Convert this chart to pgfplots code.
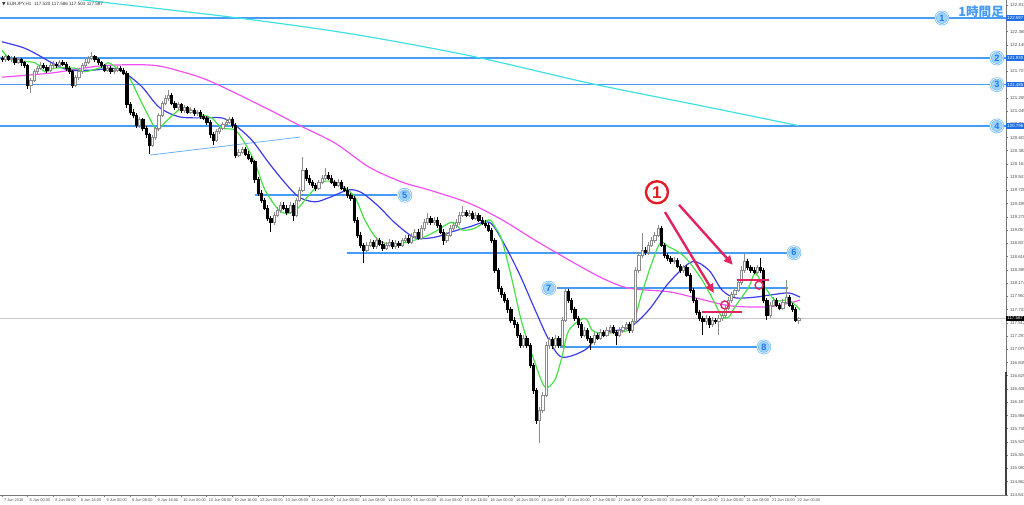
\documentclass[border=0pt]{standalone}
\usepackage{pgfplots}
\pgfplotsset{compat=1.18}
\usepackage{pgfplotstable}
\usepackage{fontspec}
\setmainfont{Liberation Sans}
\newfontfamily\cjk{Noto Sans CJK JP}
\newfontfamily\dejavu{DejaVu Sans}
\usetikzlibrary{arrows.meta}

\definecolor{lvl}{RGB}{70,155,245}
\definecolor{lvlfill}{RGB}{160,212,255}
\definecolor{lvlring}{RGB}{110,185,250}
\definecolor{lvldigit}{RGB}{30,120,230}
\definecolor{maaqua}{RGB}{64,224,224}
\definecolor{mamag}{RGB}{240,80,240}
\definecolor{mablue}{RGB}{60,60,235}
\definecolor{magreen}{RGB}{70,225,70}
\definecolor{anno}{RGB}{225,35,95}
\definecolor{annored}{RGB}{225,30,40}
\definecolor{bull}{RGB}{140,140,140}
\definecolor{axgray}{RGB}{120,120,120}
\definecolor{tickgray}{RGB}{80,80,80}
\definecolor{hlblue}{RGB}{30,110,230}

\tikzset{cnum/.style={circle, draw=lvlring, line width=0.35pt, double=white, double distance=0.35pt, fill=lvlfill, text=lvldigit, inner sep=0pt, minimum size=6.3pt, font=\fontsize{4.6}{4.6}\selectfont\bfseries}}

\newcommand{\yu}{29.975}
\pgfdeclareplotmark{candle}{%
  \pgfsetlinewidth{0.3pt}%
  \ifdim\candC pt>0pt
    \pgfsetstrokecolor{bull}\pgfsetfillcolor{white}%
  \else
    \pgfsetstrokecolor{black}\pgfsetfillcolor{black}%
  \fi
  \pgfpathmoveto{\pgfqpoint{0pt}{\candL pt}}%
  \pgfpathlineto{\pgfqpoint{0pt}{\candH pt}}%
  \pgfusepathqstroke
  \pgfpathrectanglecorners{\pgfqpoint{-0.55pt}{0pt}}{\pgfqpoint{0.55pt}{\candC pt}}%
  \pgfusepathqfillstroke
}

\pgfplotstableread{
t O H L C
0 121.93 121.97 121.86 121.90
1 121.90 121.99 121.87 121.95
2 121.95 121.98 121.88 121.91
3 121.91 121.97 121.87 121.93
4 121.93 121.96 121.82 121.86
5 121.86 121.94 121.83 121.90
6 121.90 121.93 121.80 121.85
7 121.85 121.88 121.76 121.80
8 121.80 121.83 121.42 121.48
9 121.48 121.60 121.35 121.56
10 121.56 121.74 121.53 121.70
11 121.70 121.80 121.66 121.76
12 121.76 121.86 121.73 121.81
13 121.81 121.85 121.74 121.78
14 121.78 121.81 121.68 121.73
15 121.73 121.84 121.70 121.80
16 121.80 121.88 121.77 121.83
17 121.83 121.87 121.76 121.80
18 121.80 121.90 121.77 121.86
19 121.86 121.89 121.79 121.83
20 121.83 121.86 121.72 121.76
21 121.76 121.79 121.66 121.70
22 121.70 121.73 121.43 121.48
23 121.48 121.64 121.45 121.60
24 121.60 121.74 121.57 121.70
25 121.70 121.84 121.67 121.80
26 121.80 121.91 121.77 121.86
27 121.86 121.97 121.83 121.93
28 121.93 122.03 121.89 121.95
29 121.95 121.98 121.86 121.90
30 121.90 121.93 121.81 121.85
31 121.85 121.88 121.76 121.80
32 121.80 121.83 121.69 121.73
33 121.73 121.80 121.70 121.76
34 121.76 121.79 121.66 121.70
35 121.70 121.77 121.67 121.73
36 121.73 121.80 121.70 121.76
37 121.76 121.79 121.69 121.73
38 121.73 121.76 121.64 121.68
39 121.68 121.71 121.10 121.15
40 121.15 121.20 120.98 121.03
41 121.03 121.08 120.93 120.98
42 120.98 121.01 120.76 120.81
43 120.81 120.95 120.77 120.90
44 120.90 120.93 120.71 120.76
45 120.76 120.80 120.60 120.65
46 120.65 120.68 120.33 120.48
47 120.48 120.65 120.44 120.60
48 120.60 120.80 120.56 120.76
49 120.76 121.02 120.72 120.98
50 120.98 121.22 120.94 121.18
51 121.18 121.31 121.14 121.26
52 121.26 121.40 121.22 121.31
53 121.31 121.34 121.14 121.18
54 121.18 121.22 121.06 121.10
55 121.10 121.20 121.06 121.15
56 121.15 121.18 121.02 121.06
57 121.06 121.14 121.02 121.10
58 121.10 121.13 120.99 121.03
59 121.03 121.11 120.99 121.06
60 121.06 121.09 120.96 121.00
61 121.00 121.07 120.96 121.03
62 121.03 121.06 120.92 120.96
63 120.96 121.00 120.89 120.93
64 120.93 120.97 120.82 120.86
65 120.86 120.89 120.60 120.65
66 120.65 120.69 120.48 120.56
67 120.56 120.74 120.53 120.70
68 120.70 120.80 120.66 120.76
69 120.76 120.87 120.73 120.83
70 120.83 120.91 120.79 120.86
71 120.86 120.95 120.83 120.90
72 120.90 120.94 120.77 120.81
73 120.81 120.84 120.26 120.31
74 120.31 120.41 120.27 120.36
75 120.36 120.45 120.32 120.40
76 120.40 120.44 120.29 120.33
77 120.33 120.37 120.22 120.26
78 120.26 120.30 120.16 120.20
79 120.20 120.23 119.85 119.90
80 119.90 119.94 119.63 119.68
81 119.68 119.72 119.51 119.56
82 119.56 119.60 119.39 119.43
83 119.43 119.47 119.21 119.26
84 119.26 119.30 119.03 119.19
85 119.19 119.36 119.15 119.31
86 119.31 119.44 119.27 119.39
87 119.39 119.53 119.35 119.48
88 119.48 119.52 119.39 119.43
89 119.43 119.47 119.31 119.36
90 119.36 119.52 119.32 119.48
91 119.48 119.51 119.21 119.31
92 119.31 119.60 119.27 119.56
93 119.56 119.78 119.52 119.73
94 119.73 120.28 119.70 120.06
95 120.06 120.10 119.88 119.93
96 119.93 119.97 119.81 119.86
97 119.86 119.90 119.76 119.81
98 119.81 119.85 119.71 119.76
99 119.76 119.90 119.72 119.86
100 119.86 119.97 119.82 119.93
101 119.93 120.10 119.89 119.98
102 119.98 120.02 119.89 119.93
103 119.93 119.97 119.82 119.86
104 119.86 119.90 119.76 119.81
105 119.81 119.91 119.77 119.86
106 119.86 119.89 119.72 119.76
107 119.76 119.80 119.69 119.73
108 119.73 119.77 119.60 119.64
109 119.64 119.68 119.55 119.59
110 119.59 119.62 119.18 119.23
111 119.23 119.27 118.93 118.98
112 118.98 119.02 118.76 118.81
113 118.81 118.85 118.51 118.73
114 118.73 118.86 118.69 118.81
115 118.81 118.91 118.77 118.86
116 118.86 118.90 118.75 118.79
117 118.79 118.94 118.75 118.89
118 118.89 118.93 118.79 118.83
119 118.83 118.87 118.71 118.76
120 118.76 118.86 118.72 118.81
121 118.81 118.91 118.77 118.86
122 118.86 118.90 118.75 118.79
123 118.79 118.89 118.75 118.84
124 118.84 118.88 118.76 118.81
125 118.81 118.93 118.77 118.89
126 118.89 118.98 118.85 118.93
127 118.93 118.97 118.82 118.86
128 118.86 119.01 118.82 118.96
129 118.96 119.08 118.92 119.03
130 119.03 119.07 118.89 118.93
131 118.93 119.14 118.89 119.09
132 119.09 119.24 119.05 119.19
133 119.19 119.34 119.15 119.26
134 119.26 119.30 119.15 119.19
135 119.19 119.28 119.15 119.23
136 119.23 119.27 119.10 119.14
137 119.14 119.18 118.99 119.03
138 119.03 119.07 118.81 118.89
139 118.89 119.03 118.85 118.98
140 118.98 119.14 118.94 119.09
141 119.09 119.19 119.05 119.14
142 119.14 119.24 119.10 119.19
143 119.19 119.36 119.15 119.31
144 119.31 119.46 119.27 119.36
145 119.36 119.40 119.27 119.31
146 119.31 119.39 119.27 119.34
147 119.34 119.38 119.22 119.26
148 119.26 119.36 119.22 119.31
149 119.31 119.35 119.19 119.23
150 119.23 119.27 119.14 119.18
151 119.18 119.22 119.10 119.14
152 119.14 119.18 119.02 119.06
153 119.06 119.10 118.85 118.89
154 118.89 118.92 118.34 118.39
155 118.39 118.43 118.03 118.09
156 118.09 118.13 117.93 117.98
157 117.98 118.02 117.84 117.89
158 117.89 117.93 117.68 117.73
159 117.73 117.77 117.51 117.56
160 117.56 117.61 117.43 117.48
161 117.48 117.52 117.26 117.31
162 117.31 117.35 117.09 117.14
163 117.14 117.31 117.10 117.26
164 117.26 117.30 117.09 117.14
165 117.14 117.18 116.76 116.81
166 116.81 116.85 116.33 116.39
167 116.39 116.43 115.83 115.89
168 115.89 116.10 115.51 116.06
169 116.06 116.36 116.01 116.31
170 116.31 117.19 116.27 117.14
171 117.14 117.28 117.08 117.23
172 117.23 117.27 117.08 117.13
173 117.13 117.31 117.09 117.26
174 117.26 117.30 117.09 117.14
175 117.14 117.61 117.10 117.56
176 117.56 118.11 117.52 118.03
177 118.03 118.07 117.84 117.89
178 117.89 117.93 117.68 117.73
179 117.73 117.77 117.54 117.59
180 117.59 117.63 117.43 117.48
181 117.48 117.52 117.26 117.31
182 117.31 117.44 117.27 117.39
183 117.39 117.43 117.21 117.26
184 117.26 117.30 117.06 117.19
185 117.19 117.36 117.15 117.31
186 117.31 117.35 117.22 117.26
187 117.26 117.41 117.22 117.36
188 117.36 117.40 117.27 117.31
189 117.31 117.44 117.27 117.39
190 117.39 117.48 117.35 117.43
191 117.43 117.47 117.32 117.36
192 117.36 117.40 117.14 117.31
193 117.31 117.44 117.27 117.39
194 117.39 117.48 117.35 117.43
195 117.43 117.53 117.39 117.48
196 117.48 117.52 117.35 117.39
197 117.39 117.58 117.35 117.53
198 117.53 118.44 117.49 118.39
199 118.39 118.70 118.34 118.64
200 118.64 119.01 118.60 118.73
201 118.73 118.78 118.64 118.69
202 118.69 118.86 118.65 118.81
203 118.81 118.94 118.77 118.89
204 118.89 119.03 118.85 118.98
205 118.98 119.14 118.94 119.09
206 119.09 119.12 118.77 118.81
207 118.81 118.85 118.60 118.64
208 118.64 118.68 118.55 118.59
209 118.59 118.63 118.49 118.53
210 118.53 118.61 118.49 118.56
211 118.56 118.60 118.42 118.46
212 118.46 118.50 118.35 118.39
213 118.39 118.48 118.35 118.43
214 118.43 118.47 118.27 118.31
215 118.31 118.35 118.01 118.06
216 118.06 118.10 117.84 117.89
217 117.89 117.93 117.64 117.69
218 117.69 117.73 117.54 117.59
219 117.59 117.63 117.31 117.53
220 117.53 117.64 117.48 117.59
221 117.59 117.63 117.43 117.48
222 117.48 117.61 117.44 117.56
223 117.56 117.60 117.49 117.53
224 117.53 117.64 117.31 117.59
225 117.59 117.69 117.55 117.64
226 117.64 117.81 117.60 117.76
227 117.76 117.94 117.72 117.89
228 117.89 118.03 117.85 117.98
229 117.98 118.11 117.94 118.06
230 118.06 118.24 118.02 118.19
231 118.19 118.46 118.15 118.39
232 118.39 118.68 118.35 118.53
233 118.53 118.58 118.39 118.43
234 118.43 118.48 118.35 118.39
235 118.39 118.44 118.32 118.36
236 118.36 118.48 118.32 118.43
237 118.43 118.60 118.35 118.39
238 118.39 118.43 117.84 117.89
239 117.89 117.93 117.56 117.64
240 117.64 117.86 117.60 117.81
241 117.81 117.94 117.77 117.89
242 117.89 117.93 117.77 117.81
243 117.81 117.85 117.72 117.76
244 117.76 117.91 117.72 117.86
245 117.86 118.23 117.82 117.93
246 117.93 117.97 117.77 117.81
247 117.81 117.85 117.69 117.73
248 117.73 117.77 117.52 117.56
249 117.56 117.61 117.50 117.59
}\candles

\begin{document}
\begin{tikzpicture}
\useasboundingbox (0,0) rectangle (512pt,252pt);
\begin{axis}[
  at={(0pt,4.5pt)}, anchor=south west,
  x=1.6pt, y=\yu pt,
  xmin=-0.6, xmax=313.775,
  ymin=114.64, ymax=122.897,
  axis x line*=bottom, axis y line*=right,
  axis line style={axgray, line width=0.4pt},
  tick align=outside, major tick length=1.2pt,
  tick style={axgray, line width=0.3pt},
  clip mode=individual,
  ytick={122.811,122.590,122.369,122.149,121.928,121.707,121.486,121.265,121.045,120.824,120.603,120.382,120.161,119.941,119.720,119.499,119.278,119.057,118.837,118.616,118.395,118.174,117.953,117.733,117.512,117.291,117.070,116.849,116.629,116.408,116.187,115.966,115.745,115.525,115.304,115.083,114.862,114.641},
  yticklabels={122.811,122.590,122.369,122.149,121.928,121.707,121.486,121.265,121.045,120.824,120.603,120.382,120.161,119.941,119.720,119.499,119.278,119.057,118.837,118.616,118.395,118.174,117.953,117.733,117.512,117.291,117.070,116.849,116.629,116.408,116.187,115.966,115.745,115.525,115.304,115.083,114.862,114.641},
  yticklabel style={anchor=west, inner sep=0.6pt, font=\fontsize{2.2}{2.5}\selectfont, text=tickgray},
  xtick={0,8,...,248},
  xticklabels={7 Jun 2016,8 Jun 00:00,8 Jun 08:00,8 Jun 16:00,9 Jun 00:00,9 Jun 08:00,9 Jun 16:00,10 Jun 00:00,10 Jun 08:00,10 Jun 16:00,13 Jun 00:00,13 Jun 08:00,13 Jun 16:00,14 Jun 00:00,14 Jun 08:00,14 Jun 16:00,15 Jun 00:00,15 Jun 08:00,15 Jun 16:00,16 Jun 00:00,16 Jun 08:00,16 Jun 16:00,17 Jun 00:00,17 Jun 08:00,17 Jun 16:00,20 Jun 00:00,20 Jun 08:00,20 Jun 16:00,21 Jun 00:00,21 Jun 08:00,21 Jun 16:00,22 Jun 00:00},
  xticklabel style={anchor=north west, inner sep=0.6pt, xshift=0.3pt, font=\fontsize{1.95}{2.3}\selectfont, text=tickgray},
]
% current price line
\addplot[gray!45, line width=0.3pt] coordinates {(-1,117.587) (314,117.587)};
% level lines 1-4
\addplot[lvl, line width=0.8pt] coordinates {(-1,122.597) (314,122.597)};
\addplot[lvl, line width=0.8pt] coordinates {(-1,121.930) (314,121.930)};
\addplot[lvl, line width=0.8pt] coordinates {(-1,121.485) (314,121.485)};
\addplot[lvl, line width=0.8pt] coordinates {(-1,120.796) (314,120.796)};
% level lines 5-8
\addplot[lvl, line width=0.8pt] coordinates {(79.1,119.64) (123.4,119.64)};
\addplot[lvl, line width=0.8pt] coordinates {(107.8,118.68) (245.3,118.68)};
\addplot[lvl, line width=0.8pt] coordinates {(173.4,118.09) (245.6,118.09)};
\addplot[lvl, line width=0.8pt] coordinates {(174.4,117.11) (236.0,117.11)};
% trend line
\addplot[lvl!80, line width=0.4pt] coordinates {(46.25,120.31) (93.1,120.61)};
% long MA (aqua)
\addplot[maaqua, line width=0.6pt, smooth] coordinates {(0,123.06) (25,122.90) (73.4,122.60) (109.4,122.33) (146.9,121.96) (184.4,121.50) (218.8,121.13) (249,120.80)};
% magenta MA
\addplot[mamag, line width=0.6pt, smooth] coordinates {(0,121.61) (15.6,121.68) (31.3,121.80) (46.9,121.81) (56.3,121.70) (65.6,121.53) (83.8,121.06) (92.8,120.81) (104.1,120.51) (114.7,120.11) (125,119.86) (133.4,119.73) (145.9,119.51) (156.3,119.23) (166.6,118.89) (177.2,118.56) (187.5,118.26) (195.9,118.09) (208.4,118.03) (216.6,117.93) (225.9,117.81) (231.3,117.78) (239.7,117.78) (245.9,117.84) (249.4,117.89)};
% blue MA
\addplot[mablue, line width=0.6pt, smooth] coordinates {(0,122.20) (6.25,122.11) (10.3,122.01) (15.6,121.85) (20.9,121.73) (29.1,121.73) (34.4,121.76) (38.4,121.68) (43.75,121.45) (49.1,121.11) (55.3,120.95) (62.5,120.93) (68.75,120.93) (72.8,120.81) (78.1,120.56) (83.4,120.18) (88.4,119.85) (92.8,119.61) (97.8,119.53) (102.2,119.60) (108.4,119.73) (112.5,119.68) (117.8,119.45) (122.8,119.18) (129.1,118.93) (135.3,118.94) (140.6,119.03) (145.9,119.11) (152.2,119.19) (156.3,118.89) (161.6,118.34) (166.6,117.73) (170.9,117.23) (175,116.94) (182.2,117.06) (187.5,117.34) (195.9,117.43) (202.2,117.73) (208.4,118.18) (215.6,118.53) (220.9,118.39) (225,118.06) (229.1,117.93) (235.3,117.94) (240.6,117.98) (245.9,118.01) (249.4,117.94)};
% green MA
\addplot[magreen, line width=0.6pt, smooth] coordinates {(0,122.06) (3.1,121.90) (10.3,121.85) (13.4,121.70) (16.6,121.76) (22.8,121.76) (25.9,121.70) (31.25,121.78) (33.4,121.85) (36.6,121.73) (39.7,121.61) (42.8,121.28) (45.9,120.95) (48.4,120.73) (50.9,120.85) (54.1,121.01) (57.2,121.10) (62.5,120.98) (65.6,120.93) (68.75,120.76) (72.8,120.73) (75.9,120.51) (79.1,120.18) (82.2,119.73) (86.6,119.39) (89.7,119.34) (92.8,119.44) (95.9,119.64) (100,119.86) (104.1,119.86) (107.2,119.76) (110.3,119.61) (113.4,119.23) (116.6,118.95) (119.7,118.84) (125,118.84) (131.25,118.93) (135.3,119.03) (140.6,119.19) (143.75,119.06) (147.8,119.09) (152.2,119.23) (154.1,119.11) (156.25,118.89) (159.4,118.23) (162.5,117.51) (166.6,116.84) (169.7,116.44) (172.8,116.56) (175,116.94) (177.2,117.39) (182.2,117.59) (184.4,117.39) (187.5,117.34) (192.8,117.36) (196.9,117.44) (200,118.01) (205.3,118.81) (208.4,118.78) (213.4,118.61) (218.75,118.23) (222.8,117.84) (225,117.61) (227.2,117.61) (229.1,117.78) (233.4,118.11) (235.3,118.34) (237.5,118.18) (241.6,117.89) (245.9,117.89) (249.4,117.73)};
% candles
\addplot[scatter, only marks, mark=candle,
  scatter/@pre marker code/.code={},
  scatter/@post marker code/.code={},
  visualization depends on={(\thisrow{H}-\thisrow{O})*\yu \as \candH},
  visualization depends on={(\thisrow{L}-\thisrow{O})*\yu \as \candL},
  visualization depends on={(\thisrow{C}-\thisrow{O})*\yu \as \candC},
] table[x=t, y=O] {\candles};
% red annotations
\addplot[anno, line width=1.1pt] coordinates {(218.75,117.69) (231.25,117.69)};
\addplot[anno, line width=1.1pt] coordinates {(229.7,118.23) (239.7,118.23)};
\draw[anno, line width=1.2pt, -{Triangle[length=4.5pt,width=4pt]}] (axis cs:207.2,119.36) -- (axis cs:222.5,118.01);
\draw[anno, line width=1.2pt, -{Triangle[length=4.5pt,width=4pt]}] (axis cs:211.6,119.48) -- (axis cs:228.4,118.48);
\draw[anno, line width=0.7pt] (axis cs:225.9,117.81) circle[radius=2pt];
\draw[anno, line width=0.7pt] (axis cs:236.6,118.14) circle[radius=2pt];
\node[circle, draw=annored, line width=1.2pt, text=annored, inner sep=0pt, minimum size=11pt, font=\fontsize{8.5}{8.5}\selectfont\bfseries] at (axis cs:204.7,119.69) {1};
% circled numbers
\node[cnum] at (axis cs:293.75,122.597) {1};
\node[cnum] at (axis cs:310.9,121.930) {2};
\node[cnum] at (axis cs:310.9,121.485) {3};
\node[cnum] at (axis cs:310.9,120.796) {4};
\node[cnum] at (axis cs:125.9,119.64) {5};
\node[cnum] at (axis cs:247.5,118.68) {6};
\node[cnum] at (axis cs:170.9,118.09) {7};
\node[cnum] at (axis cs:238.1,117.11) {8};
% title text
\node[text=lvl, font=\cjk\fontsize{6.3}{6.3}\selectfont\bfseries, anchor=center] at (axis cs:306,122.70) {1時間足};
\node[anchor=north west, inner sep=0.8pt, font=\fontsize{2.3}{2.6}\selectfont, text=black!80] at (rel axis cs:0,1) {{\dejavu ▼} EURJPY,H1 \ 117.520 117.586 117.503 117.587};
% right-side highlighted price labels
\node[anchor=west, fill=hlblue, text=white, inner sep=0.5pt, font=\fontsize{2.2}{2.5}\selectfont] at (axis cs:313.775,122.597) {122.597};
\node[anchor=west, fill=hlblue, text=white, inner sep=0.5pt, font=\fontsize{2.2}{2.5}\selectfont] at (axis cs:313.775,121.930) {121.930};
\node[anchor=west, fill=hlblue, text=white, inner sep=0.5pt, font=\fontsize{2.2}{2.5}\selectfont] at (axis cs:313.775,121.485) {121.485};
\node[anchor=west, fill=hlblue, text=white, inner sep=0.5pt, font=\fontsize{2.2}{2.5}\selectfont] at (axis cs:313.775,120.796) {120.796};
\node[anchor=west, fill=black, text=white, inner sep=0.5pt, font=\fontsize{2.2}{2.5}\selectfont] at (axis cs:313.775,117.587) {117.587};
% dark bar on the right scale
\draw[black!75, line width=1pt] (axis cs:313.775,116.69) -- (axis cs:313.775,114.64);
\end{axis}
\end{tikzpicture}
\end{document}
